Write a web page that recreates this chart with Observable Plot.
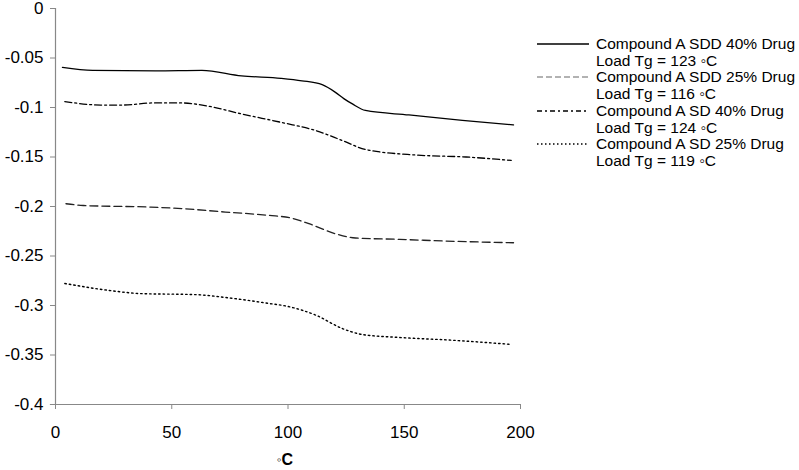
<!DOCTYPE html>
<html>
<head>
<meta charset="utf-8">
<script src="https://cdn.jsdelivr.net/npm/d3@7"></script>
<script src="https://cdn.jsdelivr.net/npm/@observablehq/plot@0.6"></script>
<style>
  html, body { margin: 0; padding: 0; background: #fff; }
  #wrap { position: relative; width: 799px; height: 470px; font-family: "Liberation Sans", Arial, sans-serif; }
  #wrap > svg { overflow: visible; }
  #legend { position: absolute; left: 537px; top: 35px; font-size: 15.5px; color: #000; }
  .entry { display: flex; align-items: flex-start; height: 33.3px; }
  .entry svg { flex: none; margin-top: 0px; }
  .entry .txt { line-height: 17px; margin-left: 7px; white-space: nowrap; }
  #xlabel { position: absolute; left: 277px; top: 452px; font-size: 16px; line-height: 16px; }
  #xlabel .deg { font-size: 13px; vertical-align: 1px; }
</style>
</head>
<body>
<div id="wrap"></div>
<script>
// Series names and styles
const seriesNames = [
  "Compound A SDD 40% Drug Load Tg = 123 ◦C",
  "Compound A SDD 25% Drug Load Tg = 116 ◦C",
  "Compound A SD 40% Drug Load Tg = 124 ◦C",
  "Compound A SD 25% Drug Load Tg = 119 ◦C"
];
const legendLine1 = ["Compound A SDD 40% Drug", "Compound A SDD 25% Drug", "Compound A SD 40% Drug", "Compound A SD 25% Drug"];
const legendLine2 = ["Load Tg = 123 ◦C", "Load Tg = 116 ◦C", "Load Tg = 124 ◦C", "Load Tg = 119 ◦C"];

// Temperatures (°C) and values
const tempSDD40 = [3, 16, 43, 63, 80, 97, 106, 114.7, 120.4, 124, 127.7, 133.3, 152, 175, 197];
const valSDD40 = [-0.0595, -0.0625, -0.063, -0.0625, -0.068, -0.0705, -0.073, -0.077, -0.0847, -0.091, -0.0964, -0.103, -0.1075, -0.113, -0.1176];

const tempSDD25 = [4.5, 12, 41, 55, 73, 92, 101, 109, 120.4, 129, 148, 172, 197];
const valSDD25 = [-0.1972, -0.199, -0.2006, -0.2022, -0.2056, -0.209, -0.2115, -0.2174, -0.2275, -0.2318, -0.2332, -0.2352, -0.2366];

const tempSD40 = [4, 19.5, 29, 42, 54, 66, 80, 98, 112, 123.4, 133.3, 155, 176.6, 196];
const valSD40 = [-0.094, -0.0975, -0.0975, -0.0954, -0.0954, -0.0988, -0.1065, -0.1155, -0.1233, -0.1334, -0.1424, -0.148, -0.150, -0.1535];

const tempSD25 = [4, 22.5, 37, 60, 74.5, 92, 99, 112, 123.4, 132, 148, 170, 196];
const valSD25 = [-0.2778, -0.2846, -0.288, -0.289, -0.2923, -0.298, -0.3005, -0.3098, -0.3233, -0.3293, -0.3323, -0.335, -0.3393];

const xTicks = [0, 50, 100, 150, 200];
const yTicks = [0, -0.05, -0.1, -0.15, -0.2, -0.25, -0.3, -0.35, -0.4];

const styles = [
  {stroke: "#000", dash: null, width: 1.3},
  {stroke: "#222", dash: "8,4", width: 1.3},
  {stroke: "#000", dash: "7,3,2,3", width: 1.3},
  {stroke: "#000", dash: "1.5,3", width: 1.4}
];
const legendStroke = ["#000", "#999", "#000", "#000"];

const temps = [tempSDD40, tempSDD25, tempSD40, tempSD25];
const vals = [valSDD40, valSDD25, valSD40, valSD25];
const tables = temps.map((t, i) => t.map((x, j) => ({t: x, v: vals[i][j], s: seriesNames[i]})));

const fmt = d => d === 0 ? "0" : String(+d.toFixed(2));

const chart = Plot.plot({
  width: 799,
  height: 470,
  marginLeft: 55,
  marginRight: 279,
  marginTop: 8,
  marginBottom: 66,
  style: {fontFamily: "Liberation Sans, Arial, sans-serif", fontSize: "17px", color: "#000", background: "#fff", overflow: "visible"},
  x: {domain: [0, 200], ticks: xTicks, label: null},
  y: {domain: [-0.4, 0], ticks: yTicks, label: null, tickFormat: fmt},
  marks: [
    Plot.ruleY([-0.4], {stroke: "#888", strokeWidth: 1.2, x1: -2.2, x2: 200}),
    Plot.ruleX([0], {stroke: "#888", strokeWidth: 1.2}),
    Plot.axisY({ticks: yTicks, tickFormat: fmt, tickSize: 5, tickPadding: 7, stroke: "#888", fill: "#000", label: null}),
    Plot.axisX({ticks: xTicks, tickSize: 5, tickPadding: 16, stroke: "#888", fill: "#000", label: null}),
    ...tables.map((tb, i) => Plot.line(tb, {
      x: "t", y: "v", curve: "monotone-x",
      stroke: styles[i].stroke, strokeWidth: styles[i].width,
      strokeDasharray: styles[i].dash
    }))
  ]
});

const wrap = document.getElementById("wrap");
wrap.appendChild(chart);

// Legend (HTML, overlaid on the right)
const legend = document.createElement("div");
legend.id = "legend";
legendLine1.forEach((l1, i) => {
  const e = document.createElement("div");
  e.className = "entry";
  const dash = styles[i].dash ? `stroke-dasharray="${i === 1 ? "6,3" : i === 2 ? "5,3,2,3" : "1.5,2.5"}"` : "";
  e.innerHTML = `<svg width="52" height="17"><line x1="0" x2="52" y1="9" y2="9" stroke="${legendStroke[i]}" stroke-width="1.3" ${dash}/></svg>` +
    `<div class="txt">${l1}<br>${legendLine2[i]}</div>`;
  legend.appendChild(e);
});
wrap.appendChild(legend);

const xl = document.createElement("div");
xl.id = "xlabel";
xl.innerHTML = `<span class="deg">◦</span><b>C</b>`;
wrap.appendChild(xl);
</script>
</body>
</html>
